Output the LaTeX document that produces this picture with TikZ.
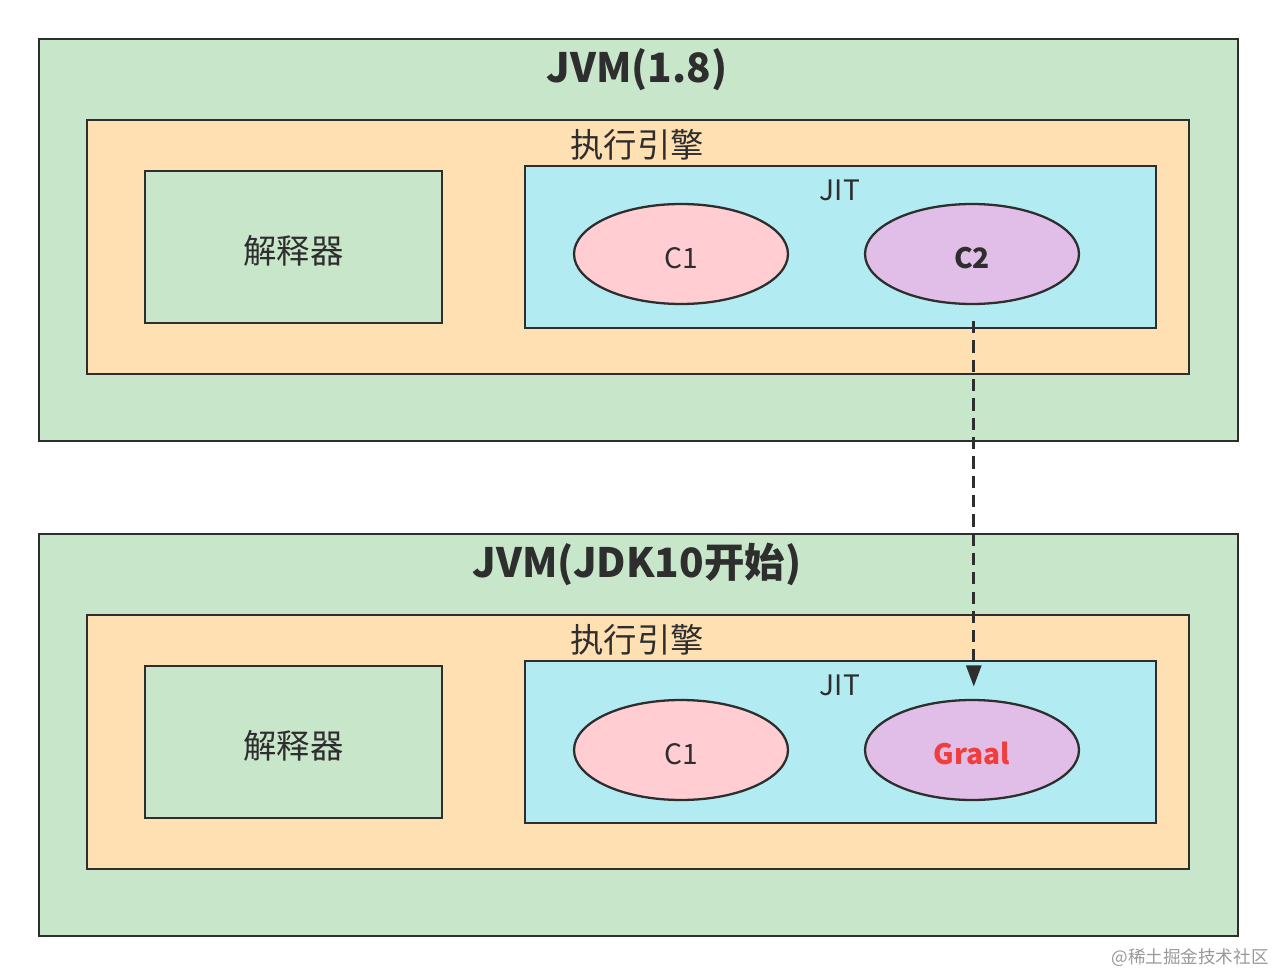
\documentclass[tikz,border=0pt]{standalone}
\usepackage{fontspec}
\setmainfont{Noto Sans CJK SC}
\usetikzlibrary{shapes.geometric, arrows.meta}
\definecolor{jvmgreen}{HTML}{C8E6C9}
\definecolor{engorange}{HTML}{FFE0B2}
\definecolor{jitcyan}{HTML}{B2EBF2}
\definecolor{cpink}{HTML}{FFCDD2}
\definecolor{cpurple}{HTML}{E1BEE7}
\definecolor{graalred}{HTML}{F23D3D}
\definecolor{linegray}{HTML}{2E2E2E}

\begin{document}
\begin{tikzpicture}[x=0.02cm,y=-0.02cm,line width=1.3pt,
    box/.style={rectangle,draw=linegray,inner sep=0pt},
    jvm box/.style={box,fill=jvmgreen,minimum width=23.98cm,minimum height=8.04cm},
    engine box/.style={box,fill=engorange,minimum width=22.04cm,minimum height=5.08cm},
    interp box/.style={box,fill=jvmgreen,minimum width=5.94cm,minimum height=3.04cm,font=\fontsize{19}{22}\selectfont,text=linegray,text height=21.5pt,text depth=2.3pt},
    jit box/.style={box,fill=jitcyan,minimum width=12.62cm,minimum height=3.24cm},
    compiler/.style={ellipse,draw=linegray,inner sep=0pt,minimum width=4.28cm,minimum height=2cm,font=\fontsize{16}{19}\selectfont,text=linegray,text height=17pt,text depth=0pt},
    title/.style={font=\bfseries\fontsize{23}{27}\selectfont,text=linegray},
    label/.style={font=\fontsize{19}{22}\selectfont,text=linegray},
    small label/.style={font=\fontsize{16}{19}\selectfont,text=linegray}]

        \useasboundingbox[fill=white] (0,0) rectangle (1275,976);

        % JVM 1.8
        \node[jvm box] (jvm1) at (638.5,240) {};
        \node[engine box] (eng1) at (638,247) {};
        \node[interp box] (interp1) at (293.5,247) {解释器};
        \node[jit box] (jit1) at (840.5,247) {};
        \node[compiler,fill=cpink] (c1a) at (681,254) {C1};
        \node[compiler,fill=cpurple,font=\bfseries\fontsize{16}{19}\selectfont] (c2) at (972,254) {C2};
        \node[title] (title1) at (637,70) {JVM(1.8)};
        \node[label] (englabel1) at (637,145) {执行引擎};
        \node[small label] (jitlabel1) at (840,190) {JIT};

        % JVM JDK10
        \node[jvm box] (jvm2) at (638.5,735) {};
        \node[engine box] (eng2) at (638,742) {};
        \node[interp box] (interp2) at (293.5,742) {解释器};
        \node[jit box] (jit2) at (840.5,742) {};
        \node[compiler,fill=cpink] (c1b) at (681,750) {C1};
        \node[compiler,fill=cpurple,text=graalred,font=\bfseries\fontsize{16}{19}\selectfont] (graal) at (972,750) {Graal};
        \node[title] (title2) at (637,564) {JVM(JDK10开始)};
        \node[label] (englabel2) at (637,640) {执行引擎};
        \node[small label] (jitlabel2) at (840,685) {JIT};

        \draw[-{Triangle[length=12pt,width=8.5pt]},line width=1.5pt,dash pattern=on 7pt off 4pt,draw=linegray,shorten <=9pt,shorten >=7pt] ([xshift=1pt]c2.south) -- ([xshift=1pt]graal.north);

        \node[font=\fontsize{10}{12}\selectfont,text=black!40] (mark) at (1190,958) {@稀土掘金技术社区};
\end{tikzpicture}
\end{document}
